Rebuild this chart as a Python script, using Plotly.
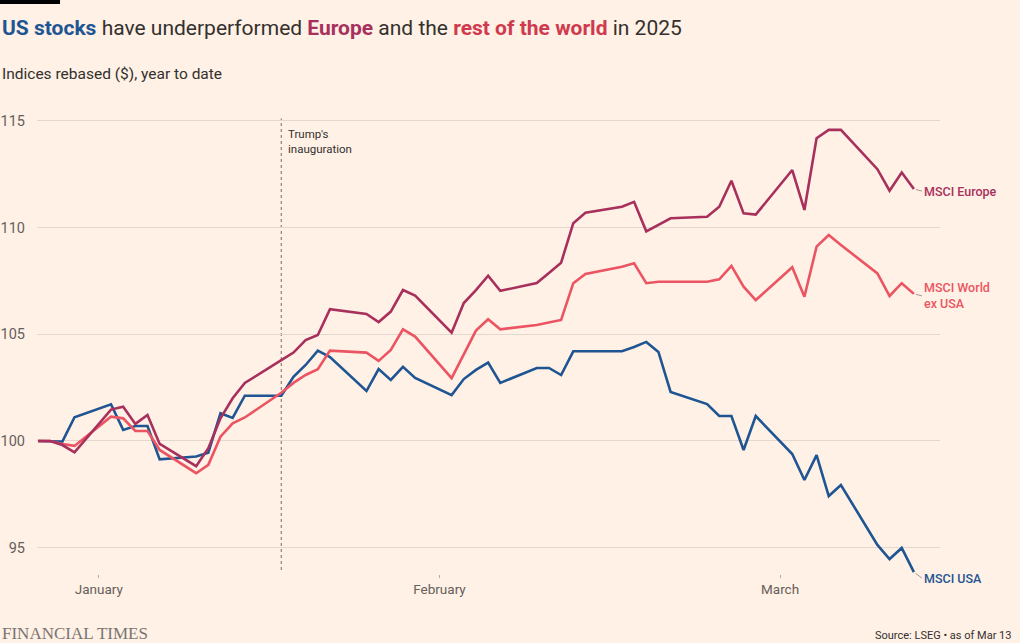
import plotly.graph_objects as go

# trading days, 31 Dec 2024 to 13 Mar 2025
dates = [
    "2024-12-31", "2025-01-01", "2025-01-02", "2025-01-03", "2025-01-06", "2025-01-07",
    "2025-01-08", "2025-01-09", "2025-01-10", "2025-01-13", "2025-01-14", "2025-01-15",
    "2025-01-16", "2025-01-17", "2025-01-20", "2025-01-21", "2025-01-22", "2025-01-23",
    "2025-01-24", "2025-01-27", "2025-01-28", "2025-01-29", "2025-01-30", "2025-01-31",
    "2025-02-03", "2025-02-04", "2025-02-05", "2025-02-06", "2025-02-07", "2025-02-10",
    "2025-02-11", "2025-02-12", "2025-02-13", "2025-02-14", "2025-02-17", "2025-02-18",
    "2025-02-19", "2025-02-20", "2025-02-21", "2025-02-24", "2025-02-25", "2025-02-26",
    "2025-02-27", "2025-02-28", "2025-03-03", "2025-03-04", "2025-03-05", "2025-03-06",
    "2025-03-07", "2025-03-10", "2025-03-11", "2025-03-12", "2025-03-13",
]

msci_usa = [
    100, 100, 99.97, 101.11, 101.72, 100.52, 100.7, 100.7, 99.14, 99.27, 99.45, 101.3,
    101.08, 102.12, 102.12, 103.01, 103.56, 104.23, 103.93, 102.34, 103.37, 102.86, 103.47, 102.95,
    102.15, 102.9, 103.33, 103.67, 102.72, 103.42, 103.42, 103.09, 104.2, 104.2, 104.2, 104.4,
    104.64, 104.17, 102.3, 101.73, 101.17, 101.17, 99.58, 101.17, 99.39, 98.17, 99.34, 97.42,
    97.94, 95.13, 94.47, 94.99, 93.86,
]

msci_europe = [
    100, 100, 99.81, 99.47, 101.47, 101.6, 100.8, 101.22, 99.86, 98.82, 99.66, 101.06,
    102.0, 102.72, 103.79, 104.14, 104.73, 104.96, 106.17, 105.95, 105.57, 106.06, 107.07, 106.81,
    105.07, 106.46, 107.07, 107.74, 107.03, 107.4, 107.87, 108.35, 110.2, 110.69, 110.97, 111.2,
    109.82, 110.13, 110.43, 110.5, 110.97, 112.19, 110.66, 110.6, 112.69, 110.82, 114.18, 114.57,
    114.57, 112.73, 111.72, 112.57, 111.8,
]

msci_world_ex_usa = [
    100, 100, 99.86, 99.77, 101.14, 101.06, 100.47, 100.47, 99.58, 98.49, 98.88, 100.2,
    100.83, 101.1, 102.26, 102.72, 103.09, 103.36, 104.23, 104.14, 103.75, 104.26, 105.23, 104.89,
    102.94, 104.03, 105.17, 105.7, 105.23, 105.43, 105.54, 105.67, 107.39, 107.82, 108.16, 108.32,
    107.39, 107.46, 107.46, 107.46, 107.57, 108.2, 107.23, 106.6, 108.14, 106.76, 109.1, 109.65,
    109.18, 107.85, 106.79, 107.39, 106.89,
]

month_ticks = ["2025-01-05", "2025-02-02", "2025-03-02"]
month_labels = ["January", "February", "March"]
y_ticks = [95, 100, 105, 110, 115]

inauguration = "2025-01-20"

BLUE = "#1e5592"
CLARET = "#a8305c"
ROSE = "#eb5462"
TEXT = "#33302e"
MUTED = "#66605c"
FONT = "Roboto"

fig = go.Figure()

for name, vals, col in [("MSCI USA", msci_usa, BLUE),
                        ("MSCI World ex USA", msci_world_ex_usa, ROSE),
                        ("MSCI Europe", msci_europe, CLARET)]:
    fig.add_trace(go.Scatter(x=dates, y=vals, mode="lines", name=name,
                             line=dict(color=col, width=2.6), hoverinfo="x+y"))

# end-of-line labels, with a short grey leader
end_labels = [("MSCI Europe", msci_europe[-1], 2, CLARET),
              ("MSCI World<br>ex USA", msci_world_ex_usa[-1], 2, ROSE),
              ("MSCI USA", msci_usa[-1], 6, BLUE)]
for txt, yv, dy, col in end_labels:
    fig.add_annotation(x=dates[-1], y=yv, text=txt, showarrow=True, arrowhead=0,
                       arrowwidth=1, arrowcolor="#a39a92", ax=8, ay=dy, standoff=2,
                       xanchor="left", yanchor="middle", align="left",
                       font=dict(family=FONT, size=12.5, color=col, weight=500))

# inauguration marker
fig.add_shape(type="line", x0=inauguration, x1=inauguration, y0=93.96, y1=115.1,
              line=dict(color="#8a827c", width=1.2, dash="dot"), layer="below")
fig.add_annotation(x=inauguration, y=115.1, text="Trump's<br>inauguration", showarrow=False,
                   xanchor="left", yanchor="top", xshift=5, yshift=-6, align="left",
                   font=dict(family=FONT, size=11.5, color=TEXT))

# FT top bar
fig.add_shape(type="rect", xref="paper", yref="paper", x0=-0.041, x1=0.0255, y0=1.2025, y1=1.212,
              fillcolor="#000000", line=dict(width=0))

fig.add_annotation(xref="paper", yref="paper", x=-0.041, y=1.1519, xanchor="left", yanchor="middle",
                   showarrow=False,
                   text=("<span style='color:%s'><b>US stocks</b></span> have underperformed "
                         "<span style='color:%s'><b>Europe</b></span> and the "
                         "<span style='color:%s'><b>rest of the world</b></span> in 2025")
                        % (BLUE, CLARET, "#d03a4e"),
                   font=dict(family=FONT, size=21, color=TEXT))
fig.add_annotation(xref="paper", yref="paper", x=-0.041, y=1.0549, xanchor="left", yanchor="middle",
                   showarrow=False, text="Indices rebased ($), year to date",
                   font=dict(family=FONT, size=15.5, color=TEXT))
fig.add_annotation(xref="paper", yref="paper", x=-0.041, y=-0.1245, xanchor="left", yanchor="middle",
                   showarrow=False, text="FINANCIAL TIMES",
                   font=dict(family="Liberation Serif", size=17, color="#7a7470"))
fig.add_annotation(xref="paper", yref="paper", x=1.0808, y=-0.1287, xanchor="right", yanchor="middle",
                   showarrow=False, text="Source: LSEG \u2022 as of Mar 13",
                   font=dict(family=FONT, size=11, color=TEXT))

fig.update_layout(
    width=1020, height=643,
    margin=dict(l=37, r=80, t=100, b=69),
    paper_bgcolor="#fff1e5", plot_bgcolor="#fff1e5",
    showlegend=False,
    font=dict(family=FONT, color=MUTED),
    xaxis=dict(type="date", range=["2024-12-30 22:00", "2025-03-15 03:30"], automargin=False,
               tickvals=month_ticks, ticktext=month_labels, ticks="outside", ticklen=3,
               tickcolor="#b8aca2", tickwidth=1, showgrid=False, zeroline=False, showline=False,
               tickfont=dict(family=FONT, size=13.5, color=MUTED)),
    yaxis=dict(range=[93.77, 115.97], tickvals=y_ticks, showgrid=True, gridcolor="#e4d8cd",
               gridwidth=1.2, zeroline=False, showline=False, ticks="", ticklabelstandoff=11,
               automargin=False, tickfont=dict(family=FONT, size=14.5, color=MUTED)),
)

fig.write_html("out.html", config={"displayModeBar": False},
               post_script="document.body.style.margin='0';")
